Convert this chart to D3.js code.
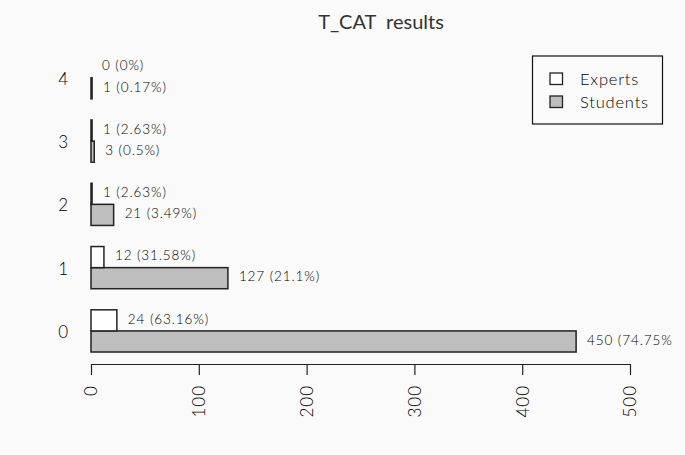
<!DOCTYPE html>
<html>
<head>
<meta charset="utf-8">
<script src="https://cdn.jsdelivr.net/npm/d3@7"></script>
<style>
  body { margin: 0; background: #fafafa; }
  svg { display: block; font-family: Lato, "Open Sans", sans-serif; font-weight: 300; }
  text { fill: #000; }
</style>
</head>
<body>
<div id="chart"></div>
<script>
// T_CAT answer counts per category
var categories = ["0", "1", "2", "3", "4"];
var experts = [24, 12, 1, 1, 0];
var students = [450, 127, 21, 3, 1];
var seriesNames = ["Experts", "Students"];
var xTicks = [0, 100, 200, 300, 400, 500];

var width = 685,
  height = 455;

var svg = d3.select("#chart").append("svg")
  .attr("width", width)
  .attr("height", height);

svg.append("rect")
  .attr("width", width)
  .attr("height", height)
  .attr("fill", "#fafafa");

var x = d3.scaleLinear().domain([0, 500]).range([91, 630]);
// bar units, counted upward like R's barplot (space = c(0, 1))
var y = d3.scaleLinear().domain([0, 16]).range([373.1, 35.6]);

var expTotal = d3.sum(experts),
  stuTotal = d3.sum(students);

function pct(v, total) {
  return +(v / total * 100).toFixed(2);
}

var rows = categories.map(function(c, i) {
  return {
    cat: c,
    i: i,
    exp: experts[i],
    stu: students[i]
  };
});

svg.append("defs").append("clipPath")
  .attr("id", "plotclip")
  .append("rect")
  .attr("x", 68)
  .attr("y", 35)
  .attr("width", 605)
  .attr("height", 340);

var plot = svg.append("g").attr("clip-path", "url(#plotclip)");

var g = plot.selectAll(".grp")
  .data(rows)
  .enter().append("g")
  .attr("class", "grp");

// students (bottom bar of each group)
g.append("rect")
  .attr("x", x(0))
  .attr("y", function(d) { return y(3 * d.i + 2); })
  .attr("width", function(d) { return x(d.stu) - x(0); })
  .attr("height", function(d) { return y(3 * d.i + 1) - y(3 * d.i + 2); })
  .attr("fill", "#bebebe")
  .attr("stroke", "#222")
  .attr("stroke-width", 1.5);

// experts (top bar)
g.append("rect")
  .attr("x", x(0))
  .attr("y", function(d) { return y(3 * d.i + 3); })
  .attr("width", function(d) { return x(d.exp) - x(0); })
  .attr("height", function(d) { return y(3 * d.i + 2) - y(3 * d.i + 3); })
  .attr("fill", "#fff")
  .attr("stroke", "#222")
  .attr("stroke-width", 1.5);

g.append("text")
  .attr("x", function(d) { return x(d.exp) + 11; })
  .attr("y", function(d) { return y(3 * d.i + 2.5) - 1.5; })
  .attr("dy", "0.35em")
  .style("font-size", "13.5px")
  .style("letter-spacing", "0.9px")
  .text(function(d) { return d.exp + " (" + pct(d.exp, expTotal) + "%)"; });

g.append("text")
  .attr("x", function(d) { return x(d.stu) + 11; })
  .attr("y", function(d) { return y(3 * d.i + 1.5) - 1.5; })
  .attr("dy", "0.35em")
  .style("font-size", "13.5px")
  .style("letter-spacing", "0.9px")
  .text(function(d) { return d.stu + " (" + pct(d.stu, stuTotal) + "%)"; });

// category labels
svg.selectAll(".cat")
  .data(rows)
  .enter().append("text")
  .attr("class", "cat")
  .attr("x", 68)
  .attr("y", function(d) { return y(3 * d.i + 2) + 1; })
  .attr("dy", "0.35em")
  .attr("text-anchor", "end")
  .style("font-size", "17px")
  .text(function(d) { return d.cat; });

// x axis
var axis = svg.append("g")
  .attr("transform", "translate(0,364)")
  .call(d3.axisBottom(x).tickValues(xTicks).tickSize(11).tickSizeOuter(0).tickPadding(0));

axis.select(".domain").attr("stroke", "#222").attr("stroke-width", 1.2);
axis.selectAll(".tick line").attr("stroke", "#222").attr("stroke-width", 1.2);
axis.selectAll(".tick text")
  .attr("transform", "translate(0,21) rotate(-90)")
  .attr("x", 0)
  .attr("y", 0)
  .attr("dy", "0.35em")
  .attr("text-anchor", "end")
  .style("font-size", "17px")
  .style("letter-spacing", "1px")
  .style("font-family", "Lato, sans-serif")
  .style("font-weight", 300)
  .attr("fill", "#000");

// title
svg.append("text")
  .attr("x", 381)
  .attr("y", 29)
  .attr("text-anchor", "middle")
  .style("font-size", "20px")
  .style("font-weight", 400)
  .style("fill", "#333")
  .style("white-space", "pre")
  .text("T_CAT  results");

// legend
var legend = svg.append("g");
legend.append("rect")
  .attr("x", 532.5)
  .attr("y", 56)
  .attr("width", 130)
  .attr("height", 68)
  .attr("fill", "none")
  .attr("stroke", "#111")
  .attr("stroke-width", 1.2);

var li = legend.selectAll(".li")
  .data(seriesNames)
  .enter().append("g")
  .attr("transform", function(d, i) { return "translate(0," + (79 + i * 23) + ")"; });

li.append("rect")
  .attr("x", 550)
  .attr("y", -6)
  .attr("width", 12.5)
  .attr("height", 11.5)
  .attr("fill", function(d, i) { return i == 0 ? "#fff" : "#bebebe"; })
  .attr("stroke", "#222")
  .attr("stroke-width", 1.3);

li.append("text")
  .attr("x", 580)
  .attr("y", 0)
  .attr("dy", "0.35em")
  .style("font-size", "16.5px")
  .style("letter-spacing", "0.8px")
  .text(function(d) { return d; });
</script>
</body>
</html>
